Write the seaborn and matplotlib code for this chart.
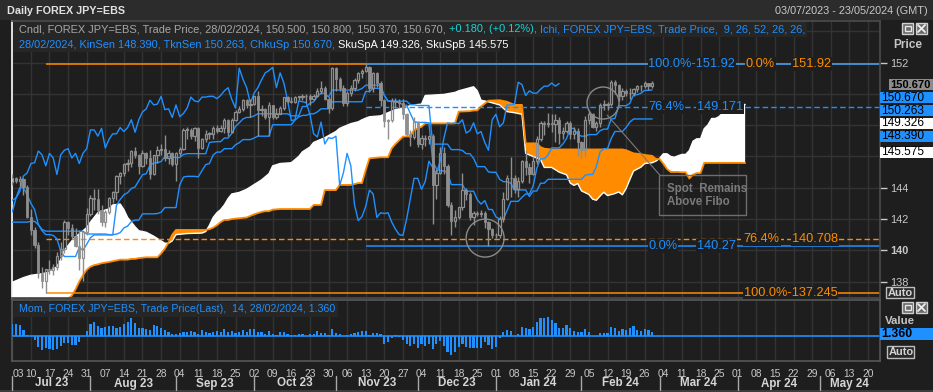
import numpy as np
import pandas as pd
import matplotlib
matplotlib.use("Agg")
import matplotlib.pyplot as plt
import matplotlib.transforms as mtrans
from matplotlib.patches import Rectangle, Ellipse
from matplotlib.lines import Line2D
import seaborn as sns

# ------------------------------------------------------------------ data
first_day = "2023-07-03"
last_day = "2024-05-23"

opens = [144.35,144.65,144.45,144.55,144.05,142.15,141.30,140.35,138.55,138.05,
         138.80,138.75,138.90,139.65,140.05,141.80,141.45,140.90,140.25,139.50,
         141.15,142.30,143.35,143.30,142.60,141.80,142.45,143.35,143.75,144.75,
         144.95,145.55,145.60,146.35,146.10,145.40,146.20,145.90,144.85,146.10,
         146.40,146.50,145.90,146.20,145.55,146.20,146.50,147.70,147.70,147.30,
         147.80,146.55,147.10,147.45,147.45,147.85,147.60,147.85,148.35,147.55,
         148.35,148.85,149.05,149.60,149.30,149.35,149.85,149.00,149.05,148.50,
         149.30,148.55,148.75,149.10,149.80,149.55,149.50,149.80,149.80,149.85,
         149.85,149.70,149.90,150.20,150.40,149.65,149.10,151.65,150.95,150.40,
         149.40,150.05,150.40,150.90,151.35,151.50,151.70,150.40,151.35,150.70,
         149.60,148.30,148.35,149.55,149.50,149.45,148.70,147.45,147.25,148.20,
         146.80,147.20,147.15,147.30,144.15,144.95,146.20,145.40,142.90,141.90,
         142.15,142.80,143.85,143.60,142.10,142.40,142.35,142.40,141.80,141.35,
         141.00,140.95,142.00,143.30,144.60,144.60,143.90,144.40,145.70,145.30,
         144.90,145.70,147.15,148.15,148.10,148.15,148.10,148.35,147.50,147.65,
         148.15,147.45,147.60,146.90,146.40,148.35,148.70,147.90,148.15,149.30,
         149.30,149.35,150.75,150.60,149.90,150.20,150.05,150.05,150.30,150.50,
         150.50,150.70,150.50]
highs = [144.90,144.70,144.75,144.65,144.20,142.65,141.50,140.55,138.90,138.75,
         139.40,139.10,139.90,140.50,141.95,141.90,141.70,141.40,141.30,141.20,
         142.70,143.55,143.90,143.90,142.90,142.60,143.40,143.80,144.80,145.00,
         145.60,145.85,146.40,146.60,146.15,146.40,146.30,146.40,146.10,146.65,
         146.80,147.40,146.40,146.30,146.30,146.60,147.80,147.90,147.85,147.90,
         147.90,147.20,147.70,147.55,147.95,148.00,148.00,148.45,148.40,148.45,
         148.95,149.20,149.70,149.70,149.70,149.90,150.16,149.30,149.10,149.50,
         149.30,149.10,149.20,149.80,149.90,149.80,149.90,149.90,150.00,150.00,
         150.00,150.00,150.40,150.80,150.50,149.80,151.70,151.70,151.10,150.60,
         150.20,150.60,151.00,151.40,151.60,151.92,151.80,151.40,151.40,150.80,
         149.70,148.40,149.75,149.75,149.70,149.70,148.80,147.70,148.50,148.30,
         147.40,147.40,147.30,147.45,145.20,146.60,146.60,145.50,143.10,142.60,
         142.80,144.95,144.00,143.70,142.50,142.50,142.60,142.50,141.85,141.40,
         141.10,142.20,143.70,144.80,145.98,144.80,144.70,145.80,146.40,145.60,
         146.00,147.30,148.30,148.30,148.80,148.70,148.70,148.50,147.90,148.30,
         148.30,147.90,147.80,147.00,148.60,148.90,148.80,148.30,149.40,149.60,
         149.50,150.90,150.90,150.65,150.40,150.30,150.40,150.40,150.60,150.55,
         150.80,150.70,150.80]
lows = [144.20,144.30,144.05,143.55,142.05,140.95,140.15,138.20,137.60,137.25,
        138.50,138.40,138.75,139.40,139.80,141.00,140.70,140.20,138.75,138.05,
        140.95,142.20,142.60,142.35,141.55,141.50,142.30,143.05,143.20,144.25,
        144.75,145.10,145.30,145.90,144.90,145.30,145.50,144.55,144.80,145.60,
        146.10,145.70,145.50,145.40,144.45,146.00,146.40,147.10,147.10,147.00,
        145.90,146.50,146.90,147.10,147.10,147.50,147.55,147.50,147.30,147.50,
        148.30,148.80,148.90,149.10,148.50,149.30,147.30,148.60,148.40,147.30,
        148.40,148.40,148.70,149.00,149.40,149.40,149.45,149.60,149.60,149.40,
        149.30,149.60,149.80,150.00,149.60,148.80,149.00,150.20,150.20,149.20,
        149.20,149.90,150.20,150.70,151.00,151.40,150.15,150.10,150.45,149.20,
        147.90,147.15,148.20,149.10,149.10,148.40,147.30,146.70,147.10,146.60,
        146.50,146.70,146.80,141.65,143.30,144.90,144.90,142.80,140.95,141.50,
        142.00,142.60,143.20,141.95,141.60,142.20,142.10,141.40,140.27,140.80,
        140.80,140.80,141.80,143.20,143.40,143.65,143.40,144.30,144.80,144.30,
        144.80,145.50,147.00,147.40,147.90,147.55,146.90,146.80,147.10,147.50,
        147.10,147.10,146.00,145.90,145.95,148.10,147.85,147.60,147.90,149.00,
        149.00,149.20,150.00,149.55,149.60,149.90,149.70,149.90,150.10,150.20,
        150.40,150.25,150.37]
closes = [144.65,144.45,144.55,144.05,142.15,141.30,140.35,138.55,138.05,138.80,
          138.75,138.90,139.65,140.05,141.80,141.45,140.90,140.25,139.50,141.15,
          142.30,143.35,143.30,142.60,141.80,142.45,143.35,143.75,144.75,144.95,
          145.55,145.60,146.35,146.10,145.40,146.20,145.90,144.85,146.10,146.40,
          146.50,145.90,146.20,145.55,146.20,146.50,147.70,147.70,147.30,147.80,
          146.55,147.10,147.45,147.45,147.85,147.60,147.85,148.35,147.55,148.35,
          148.85,149.05,149.60,149.30,149.35,149.85,149.00,149.05,148.50,149.30,
          148.55,148.75,149.10,149.80,149.55,149.50,149.80,149.80,149.85,149.85,
          149.70,149.90,150.20,150.40,149.65,149.10,151.65,150.95,150.40,149.40,
          150.05,150.40,150.90,151.35,151.50,151.70,150.40,151.35,150.70,149.60,
          148.30,148.35,149.55,149.50,149.45,148.70,147.45,147.25,148.20,146.80,
          147.20,147.15,147.30,144.15,144.95,146.20,145.40,142.90,141.90,142.15,
          142.80,143.85,143.60,142.10,142.40,142.35,142.40,141.80,141.35,141.00,
          140.95,142.00,143.30,144.60,144.60,143.90,144.40,145.70,145.30,144.90,
          145.70,147.15,148.15,148.10,148.15,148.10,148.35,147.50,147.65,148.15,
          147.45,147.60,146.90,146.40,148.35,148.70,147.90,148.15,149.30,149.30,
          149.35,150.75,150.60,149.90,150.20,150.05,150.05,150.30,150.50,150.50,
          150.70,150.50,150.67]

tenkan = [143.20,143.35,144.00,144.00,143.55,143.00,142.60,141.65,141.25,141.00,
          141.00,140.95,140.73,139.95,139.60,139.60,139.60,139.60,140.18,140.00,
          140.38,140.80,140.98,140.98,140.98,140.98,140.98,140.98,142.88,143.25,
          143.55,143.68,143.95,144.05,144.45,144.83,144.90,145.43,145.58,145.60,
          145.68,145.98,145.98,145.98,145.93,145.93,146.13,146.18,146.18,146.18,
          146.18,146.18,146.18,146.90,146.93,146.95,146.95,147.18,147.18,147.48,
          147.93,148.15,148.40,148.50,148.50,148.60,148.73,148.73,148.73,148.73,
          148.73,148.73,148.73,148.73,148.73,148.60,148.60,148.60,149.20,149.20,
          149.40,149.50,149.85,150.05,150.05,149.80,150.25,150.25,150.25,150.25,
          150.25,150.25,150.25,150.25,150.35,150.56,150.56,150.56,150.56,150.56,
          149.91,149.54,149.54,149.54,149.48,149.28,149.28,148.75,148.23,148.18,
          148.18,148.18,148.15,145.68,145.23,145.08,145.08,144.98,144.20,144.20,
          144.20,144.20,143.78,143.78,143.78,143.23,142.95,143.18,142.61,142.61,
          142.14,141.99,141.99,142.54,143.13,143.13,143.13,143.39,143.60,143.60,
          144.10,145.25,145.85,145.85,146.10,146.55,146.55,146.55,146.80,147.15,
          147.80,147.80,147.40,147.30,147.30,147.40,147.40,147.40,147.65,147.75,
          147.75,148.40,148.43,149.25,149.25,149.25,149.40,149.95,149.95,150.05,
          150.23,150.23,150.26]
kijun = [141.80,141.80,141.80,141.80,141.80,141.85,141.85,141.63,141.33,141.22,
         141.22,141.22,141.22,141.22,141.22,141.22,141.22,141.22,141.22,141.22,
         141.04,141.04,141.04,141.04,141.04,141.04,141.00,141.00,141.03,141.13,
         141.43,141.55,141.83,141.93,141.93,142.33,142.33,142.33,142.33,142.35,
         142.43,142.73,142.73,142.73,142.73,144.18,144.68,144.73,144.73,144.73,
         144.70,145.10,145.48,145.55,146.10,146.28,146.28,146.50,146.50,146.50,
         146.75,146.88,147.08,147.08,147.08,147.18,147.30,147.30,147.30,147.30,
         148.03,148.03,148.03,148.03,148.03,148.03,148.33,148.53,148.63,148.63,
         148.73,148.73,148.85,149.05,149.05,149.05,149.50,149.50,149.50,149.50,
         149.50,149.50,149.50,149.50,149.50,150.16,150.16,150.36,150.36,150.36,
         149.91,149.54,149.54,149.54,149.54,149.54,149.54,149.31,149.31,149.26,
         149.26,149.26,149.26,146.79,146.79,146.79,146.79,146.79,146.44,146.44,
         146.44,146.38,146.18,146.18,145.88,145.35,145.35,145.35,145.01,144.99,
         144.99,144.54,144.39,144.39,144.29,143.86,143.86,143.86,143.86,143.44,
         143.79,143.79,144.29,144.29,144.54,144.54,144.54,144.54,144.54,144.54,
         144.54,144.54,144.54,144.54,144.80,144.85,144.85,145.35,146.30,146.50,
         146.50,147.15,147.60,147.60,147.60,147.85,148.20,148.40,148.40,148.40,
         148.40,148.40,148.40]

cloud_day = [0, 1, 3, 5, 8, 10, 12, 13, 14, 16, 17, 18, 19, 20, 21, 22, 23, 24, 26, 27, 29,
             30, 31, 32, 33, 34, 36, 38, 39, 40, 41, 42, 43, 44, 47, 51, 52, 53, 54, 55, 56,
             57, 58, 59, 61, 63, 65, 67, 68, 69, 70, 72, 75, 77, 78, 80, 81, 83, 84, 87, 88,
             91, 93, 94, 95, 96, 99, 101, 102, 103, 105, 107, 108, 110, 111, 116, 119, 120, 123, 124, 125,
             126, 128, 131, 133, 135, 137, 138, 141, 142, 143, 145, 147, 149, 150, 151, 152, 153, 155, 156, 157,
             158, 159, 160, 162, 163, 164, 165, 166, 167, 169, 170, 172, 173, 174, 175, 176, 177, 178, 179, 180,
             181, 182, 183, 184, 185, 186, 187, 188, 189, 190, 191, 192, 193, 194, 195, 196, 197]
span_a = [137.95, 138.05, 138.25, 138.4, 138.5, 138.6, 138.95, 139.4, 140.0, 140.6, 140.85, 141.05, 141.25, 141.45, 141.8, 142.1, 142.4, 142.5, 142.65, 142.9, 142.96,
          142.6, 142.1, 141.8, 141.5, 141.25, 141.15, 140.9, 140.75, 140.6, 140.45, 140.45, 140.6, 141.0, 141.07, 141.1, 141.2, 141.6, 142.1, 142.4, 142.6,
          142.9, 143.3, 143.6, 143.7, 143.9, 144.2, 144.5, 144.7, 144.9, 145.4, 145.55, 145.6, 146.0, 146.3, 146.6, 146.9, 147.1, 147.2, 147.6, 147.8,
          148.1, 148.22, 148.35, 148.45, 148.54, 148.6, 148.8, 148.9, 149.0, 149.1, 149.25, 149.3, 149.35, 149.9, 149.97, 150.1, 150.2, 150.4, 150.46, 150.2,
          149.6, 149.5, 149.3, 148.87, 148.8, 148.7, 146.2, 145.9, 145.8, 145.3, 145.3, 145.0, 144.83, 144.3, 144.15, 144.27, 143.8, 143.57, 143.27, 143.2,
          143.47, 143.71, 143.5, 143.63, 143.73, 143.55, 143.95, 144.52, 145.07, 145.32, 145.55, 145.6, 145.7, 145.88, 146.17, 146.17, 146.0, 145.95, 146.05, 146.13,
          146.13, 146.38, 146.98, 147.13, 147.13, 147.78, 148.02, 148.43, 148.43, 148.55, 148.8, 149.18, 149.18, 149.23, 149.32, 149.32, 149.33]
span_b = [136.0, 136.0, 136.0, 136.1, 136.2, 136.3, 136.4, 136.5, 136.7, 137.1, 137.5, 138.0, 138.4, 138.75, 138.95, 139.05, 139.1, 139.17, 139.25, 139.3, 139.4,
          139.4, 139.4, 139.45, 139.45, 139.5, 139.55, 139.55, 139.55, 139.8, 140.1, 140.5, 141.0, 141.3, 141.3, 141.3, 141.3, 141.35, 141.45, 141.6, 141.8,
          141.94, 141.94, 142.0, 142.05, 142.1, 142.3, 142.45, 142.5, 142.5, 142.6, 142.64, 142.64, 142.64, 142.64, 142.64, 142.9, 142.9, 143.85, 143.85, 144.18,
          144.18, 144.3, 144.3, 145.13, 145.88, 145.95, 145.95, 146.52, 146.8, 147.27, 147.3, 147.69, 147.9, 148.12, 148.12, 148.12, 148.87, 148.9, 148.95, 148.95,
          149.2, 149.57, 149.6, 149.5, 149.3, 149.3, 146.84, 146.84, 146.6, 146.5, 146.45, 146.45, 146.45, 146.45, 146.45, 146.45, 146.45, 146.45, 146.45, 146.45,
          146.45, 146.45, 146.45, 146.45, 146.45, 146.45, 146.4, 146.3, 146.2, 146.15, 146.1, 146.04, 145.84, 145.84, 145.54, 145.2, 145.01, 145.01, 145.01, 144.99,
          144.99, 144.59, 144.84, 144.94, 144.94, 145.59, 145.59, 145.59, 145.59, 145.59, 145.59, 145.59, 145.59, 145.59, 145.59, 145.59, 145.58]

momentum = [4.45, 4.45, 4.25, 2.2, 0.25, -0.15, -1.55, -4.55, -5.65, -4.7,
            -5.3, -5.55, -5.1, -4.25, -2.85, -3.0, -3.65, -3.8, -2.65, -0.15,
            1.95, 4.8, 5.25, 3.8, 3.05, 3.55, 3.7, 3.7, 2.95, 3.5,
            4.65, 5.35, 6.85, 4.95, 3.1, 2.85, 2.6, 2.25, 4.3, 3.95,
            3.15, 2.15, 1.45, 0.6, 0.65, 0.9, 1.35, 1.6, 1.9, 1.6,
            0.65, 2.25, 1.35, 1.05, 1.35, 1.7, 1.65, 2.8, 1.35, 1.85,
            1.15, 1.35, 2.3, 1.5, 2.8, 2.75, 1.55, 1.6, 0.65, 1.7,
            0.7, 0.4, 1.55, 1.45, 0.7, 0.45, 0.2, 0.5, 0.5, 0.0,
            0.7, 0.85, 1.7, 1.1, 1.1, 0.35, 2.55, 1.15, 0.85, -0.1,
            0.25, 0.6, 1.05, 1.5, 1.8, 1.8, 0.2, 0.95, 1.05, 0.5,
            -3.35, -2.6, -0.85, 0.1, -0.6, -1.7, -3.45, -4.1, -3.3, -4.9,
            -3.2, -4.2, -3.4, -5.45, -3.35, -2.15, -4.15, -6.6, -7.55, -6.55,
            -4.65, -3.4, -4.6, -4.7, -4.8, -4.8, -4.9, -2.35, -3.6, -5.2,
            -4.45, -0.9, 1.4, 2.45, 1.8, 0.05, 0.8, 3.6, 2.9, 2.55,
            3.3, 5.35, 6.8, 7.1, 7.2, 6.1, 5.05, 2.9, 3.05, 4.25,
            3.05, 1.9, 1.6, 1.5, 2.65, 1.55, -0.25, 0.05, 1.15, 1.2,
            1.0, 3.25, 2.95, 1.75, 2.75, 2.45, 3.15, 3.9, 2.15, 1.8,
            2.8, 2.35, 1.37]

chikou_shift = 25
fib_high, fib_low_blue, fib_low_orange = 151.92, 140.27, 137.245
fib_blue_764, fib_orange_764 = 149.171, 140.708
fib_blue_start, fib_orange_start = 95, 9
price_ticks = [138, 140, 142, 144, 146, 148, 150, 152]
price_tick_labels = ["138", "140", "142", "144", "", "", "", "152"]

header1 = [("Cndl, FOREX JPY=EBS, Trade Price, 28/02/2024, 150.500, 150.800, 150.370, 150.670, ", "#a6a6a6"),
           ("+0.180, (+0.12%), ", "#19d3d3"),
           ("Ichi, FOREX JPY=EBS, Trade Price,  9, 26, 52, 26, 26,", "#1e90ff")]
header2 = [("28/02/2024, KinSen 148.390, TknSen 150.263, ChkuSp 150.670, ", "#1e90ff"),
           ("SkuSpA 149.326, SkuSpB 145.575", "#ffffff")]
mom_header = "Mom, FOREX JPY=EBS, Trade Price(Last),  14, 28/02/2024, 1.360"

# ------------------------------------------------------------------ style
W, H = 933, 392
BG = "#1e1e1e"
GRID = "#333333"
BLUE = "#1e90ff"
ORANGE = "#ff8c00"
CANDLE = "#8f8f8f"
TXT = "#c8c8c8"

sns.set_theme(style="dark", rc={"axes.facecolor": BG, "figure.facecolor": BG,
                                "axes.edgecolor": "#4a4a4a", "grid.color": GRID,
                                "text.color": TXT, "xtick.color": TXT, "ytick.color": TXT})
plt.rcParams["font.family"] = ["Liberation Sans", "DejaVu Sans"]

fig = plt.figure(figsize=(W / 100, H / 100), dpi=100)
renderer = fig.canvas.get_renderer()


def fx(px):
    return px / W


def fy(py):
    return 1 - py / H


AX_L, AX_R = 12, 880
ax = fig.add_axes([fx(AX_L), fy(298), (AX_R - AX_L) / W, (298 - 21) / H])
axm = fig.add_axes([fx(AX_L), fy(361), (AX_R - AX_L) / W, (361 - 300) / H], sharex=ax)

# title bar
fig.add_artist(Rectangle((0, fy(20)), 1, 20 / H, transform=fig.transFigure,
                         facecolor="#2c2c2c", edgecolor="none", zorder=0))

dates = pd.bdate_range(first_day, last_day)
n_days = len(dates)
x_right = n_days - 0.75
idx = np.arange(len(closes))
mondays = [i for i, d in enumerate(dates) if d.weekday() == 0]
month_starts = [i for i, d in enumerate(dates) if i == 0 or d.month != dates[i - 1].month]

# ------------------------------------------------------------------ main panel
ax.set_xlim(-0.08, x_right)
ax.set_ylim(136.946, 154.668)
ax.set_xticks(mondays)
ax.tick_params(axis="x", length=0, labelbottom=False)
ax.grid(True, color=GRID, lw=1)
ax.axhline(154, color=GRID, lw=1, zorder=0.5)
ax.yaxis.tick_right()
ax.set_yticks(price_ticks)
ax.set_yticklabels(price_tick_labels)
ax.tick_params(axis="y", length=5, width=1, pad=2.5, labelsize=7.9, colors=TXT)
for lbl in ax.get_yticklabels():
    if lbl.get_text() == "140":
        lbl.set_fontweight("bold")
for s in ("top", "right", "bottom"):
    ax.spines[s].set_color("#4a4a4a")
ax.spines["left"].set_color("white")
ax.spines["left"].set_linewidth(1.2)

# cloud
cx = np.array(cloud_day)
sa = np.array(span_a)
sb = np.array(span_b)
ax.fill_between(cx, sa, sb, where=sa >= sb, interpolate=True, color="white", lw=0, zorder=1)
ax.fill_between(cx, sa, sb, where=sa < sb, interpolate=True, color=ORANGE, lw=0, zorder=1)
ax.plot(cx, sa, color="white", lw=1.0, zorder=1.5)
ax.plot(cx, sb, color=ORANGE, lw=1.3, zorder=1.5)

# fibonacci levels
ax.hlines([fib_high, fib_low_orange], fib_orange_start, x_right, color=ORANGE, lw=1.1, zorder=2)
ax.hlines(fib_orange_764, fib_orange_start, x_right, color=ORANGE, lw=1.0,
          linestyles=(0, (4, 2.2)), zorder=2)
ax.hlines([fib_high, fib_low_blue], fib_blue_start, x_right, color=BLUE, lw=1.1, zorder=2.1)
ax.hlines(fib_blue_764, fib_blue_start, x_right, color=BLUE, lw=1.0,
          linestyles=(0, (4, 2.2)), zorder=2.1)

# ichimoku lines
sns.lineplot(x=idx, y=tenkan, ax=ax, color=BLUE, linewidth=1.0, zorder=3)
sns.lineplot(x=idx, y=kijun, ax=ax, color=BLUE, linewidth=1.0, zorder=3)
sns.lineplot(x=idx[:-chikou_shift], y=closes[chikou_shift:], ax=ax, color=BLUE,
             linewidth=1.0, zorder=3)

# candles
o, h, l, c = (np.array(v) for v in (opens, highs, lows, closes))
up = c >= o
blo = np.minimum(o, c)
bhi = np.maximum(o, c)
ax.vlines(idx, l, blo, color=CANDLE, lw=1.0, zorder=4)
ax.vlines(idx, bhi, h, color=CANDLE, lw=1.0, zorder=4)
hts = np.maximum(bhi - blo, 0.04)
ax.bar(idx[~up], hts[~up], bottom=blo[~up], width=0.62, color=CANDLE,
       edgecolor=CANDLE, lw=0.6, zorder=4)
ax.bar(idx[up], hts[up], bottom=blo[up], width=0.62, facecolor="none",
       edgecolor=CANDLE, lw=0.9, zorder=4)

# fibonacci labels
lab_kw = dict(fontsize=9.2, va="center", ha="left", zorder=5,
              bbox=dict(facecolor=BG, edgecolor="none", pad=0.6))
ax.text(171.0, fib_high, "100.0%-151.92", color=BLUE, **lab_kw)
ax.text(197.2, fib_high, "0.0%", color=ORANGE, **lab_kw)
ax.text(209.6, fib_high, "151.92", color=ORANGE, **lab_kw)
ax.text(171.0, fib_blue_764, "76.4%", color=BLUE, **lab_kw)
ax.text(184.1, fib_blue_764, "149.171", color=BLUE, **lab_kw)
ax.text(171.0, fib_low_blue, "0.0%", color=BLUE, **lab_kw)
ax.text(184.1, fib_low_blue, "140.27", color=BLUE, **lab_kw)
ax.text(196.6, fib_orange_764, "76.4%", color=ORANGE, **lab_kw)
ax.text(209.6, fib_orange_764, "140.708", color=ORANGE, **lab_kw)
ax.text(196.6, fib_low_orange, "100.0%-137.245", color=ORANGE, **lab_kw)

# annotations
ax.add_patch(Ellipse((158.8, 149.42), 8.6, 2.05, fill=False, edgecolor="#8a8a8a", lw=1, zorder=6))
ax.add_patch(Ellipse((127.1, 140.78), 10.2, 2.43, fill=False, edgecolor="#8a8a8a", lw=1, zorder=6))
ax.plot([159.9, 174.1], [148.65, 144.8], color="#7a7a7a", lw=0.8, zorder=6)
ax.add_patch(Rectangle((173.8, 142.25), 23.4, 2.55, fill=False, edgecolor="#6e6e6e", lw=1, zorder=6))
ax.text(175.9, 143.92, "Spot  Remains", color="#7a7a7a", fontsize=8.3, weight="bold",
        va="center", ha="left", zorder=6)
ax.text(175.9, 143.09, "Above Fibo", color="#7a7a7a", fontsize=8.3, weight="bold",
        va="center", ha="left", zorder=6)

# ------------------------------------------------------------------ momentum panel
axm.set_ylim(-10.0, 14.11)
axm.bar(idx, momentum, width=0.6, color=BLUE, lw=0, zorder=3)
axm.axhline(0, color=BLUE, lw=1.2, zorder=2)
axm.set_yticks([])
axm.grid(True, axis="x", color=GRID, lw=1)
axm.grid(False, axis="y")
for s in axm.spines.values():
    s.set_color("#555555")
axm.set_xticks(mondays)
axm.set_xticklabels([f"{dates[i].day:02d}" for i in mondays])
axm.set_xticks(month_starts, minor=True)
axm.tick_params(axis="x", which="major", length=4, width=1, pad=1.5, labelsize=7.4, colors=TXT)
axm.tick_params(axis="x", which="minor", length=4, width=1, colors=TXT)
axm.get_xticklabels()[0].set_horizontalalignment("left")
axm.set_xlim(-0.08, x_right)

# month labels and separators
btr = mtrans.blended_transform_factory(axm.transData, fig.transFigure)
bounds = month_starts + [x_right]
for k, ms in enumerate(month_starts):
    fig.add_artist(Line2D([ms, ms], [fy(376), fy(390)], transform=btr, color="#a8a8a8", lw=1))
    mid = (bounds[k] + bounds[k + 1]) / 2
    fig.text(mid, fy(383.5), dates[ms].strftime("%b %y"), transform=btr, ha="center",
             va="center", fontsize=8.4, weight="bold", color="#d6d6d6")
fig.add_artist(Rectangle((0, 0), 1, 2 / H, transform=fig.transFigure, facecolor="#3c3c3c",
                         edgecolor="none"))


# ------------------------------------------------------------------ texts
def text_width(s, size, weight="normal"):
    t = fig.text(0, 0, s + "|", fontsize=size, weight=weight)
    w1 = t.get_window_extent(renderer).width
    t.set_text("|")
    w2 = t.get_window_extent(renderer).width
    t.remove()
    return w1 - w2


def fit(s, target, weight="normal", base=8.0):
    return base * target / text_width(s, base, weight)


def draw_runs(pieces, x_px, y_px, size, weight="normal"):
    x = x_px
    for s, col in pieces:
        fig.text(fx(x), fy(y_px), s, color=col, fontsize=size, weight=weight,
                 va="center", ha="left", zorder=10)
        x += text_width(s, size, weight)
    return x


hsize = fit("".join(s for s, _ in header1), 786)
fig.add_artist(Rectangle((fx(14), fy(37)), (807 - 14) / W, 15 / H, transform=fig.transFigure,
                         facecolor="#262626", edgecolor="none", zorder=9))
fig.add_artist(Rectangle((fx(14), fy(52)), (500 - 14) / W, 15 / H, transform=fig.transFigure,
                         facecolor="#262626", edgecolor="none", zorder=9))
draw_runs(header1, 19, 29.5, hsize)
draw_runs(header2, 19, 44.5, hsize)

fig.add_artist(Rectangle((fx(14), fy(317)), (338 - 14) / W, 15 / H, transform=fig.transFigure,
                         facecolor="#262626", edgecolor="none", zorder=9))
fig.text(fx(19), fy(309.5), mom_header, color=BLUE, fontsize=fit(mom_header, 316),
         va="center", ha="left", zorder=10)

fig.text(fx(7), fy(10.5), "Daily FOREX JPY=EBS", color="#e2e2e2",
         fontsize=fit("Daily FOREX JPY=EBS", 118, "bold"), weight="bold", va="center", ha="left")
rng = "03/07/2023 - 23/05/2024 (GMT)"
fig.text(fx(928), fy(10.5), rng, color="#c8c8c8", fontsize=fit(rng, 153), va="center", ha="right")

fig.text(fx(893), fy(45), "Price", color="#c4c4c4", fontsize=8.6, weight="bold", va="center", ha="left")


def box(x0, x1, y0, y1, fc, txt, tc="black", weight="normal", size=8.6, ec="none"):
    fig.add_artist(Rectangle((fx(x0), fy(y1)), (x1 - x0) / W, (y1 - y0) / H,
                             transform=fig.transFigure, facecolor=fc, edgecolor=ec, lw=1, zorder=11))
    fig.text(fx(x0 + 1.5), fy((y0 + y1) / 2), txt, color=tc, fontsize=size, weight=weight,
             va="center", ha="left", zorder=12)


box(889, 933, 79, 90, "#8c8c8c", "150.670", weight="bold", size=8.0)
box(880, 933, 92, 103.5, BLUE, "150.670")
box(880, 933, 105, 116, BLUE, "150.263")
box(880, 933, 117.5, 128.5, "white", "149.326")
box(880, 933, 130.5, 141.5, BLUE, "148.390")
box(880, 933, 147, 158, "white", "145.575")
box(886, 914, 287, 298, "#2a2a2a", "Auto", tc="#d4d4d4", weight="bold", size=7.9, ec="#bdbdbd")

fig.text(fx(885), fy(320.5), "Value", color="#c4c4c4", fontsize=8.2, weight="bold", va="center", ha="left")
box(880, 933, 327.5, 340, BLUE, "1.360", weight="bold", size=8.8)
box(887, 914, 346, 358, "#2a2a2a", "Auto", tc="#d4d4d4", weight="bold", size=7.9, ec="#bdbdbd")


def icons(y0):
    for x0 in (902, 916):
        fig.add_artist(Rectangle((fx(x0), fy(y0 + 11)), 11 / W, 11 / H, transform=fig.transFigure,
                                 facecolor="#6a6a6a", edgecolor="#d0d0d0", lw=1, zorder=11))
    fig.add_artist(Rectangle((fx(904.5), fy(y0 + 8)), 6 / W, 5 / H, transform=fig.transFigure,
                             facecolor="none", edgecolor="#e8e8e8", lw=1, zorder=12))
    fig.add_artist(Line2D([fx(918), fx(925)], [fy(y0 + 2), fy(y0 + 9)], transform=fig.transFigure,
                          color="#f0f0f0", lw=1.3, zorder=12))
    fig.add_artist(Line2D([fx(918), fx(925)], [fy(y0 + 9), fy(y0 + 2)], transform=fig.transFigure,
                          color="#f0f0f0", lw=1.3, zorder=12))


icons(23)
icons(302)

fig.savefig("out.png", dpi=100, facecolor=BG)
